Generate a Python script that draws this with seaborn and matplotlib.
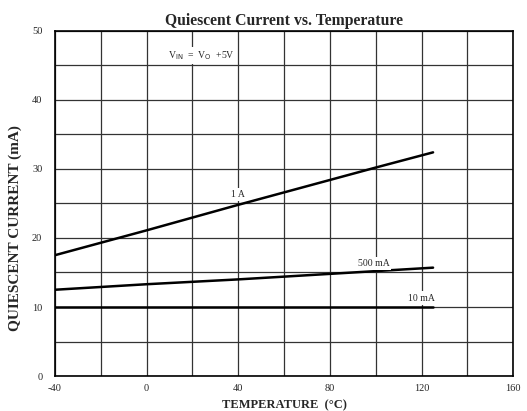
import numpy as np
import pandas as pd
import seaborn as sns
import matplotlib
matplotlib.use("Agg")
import matplotlib.pyplot as plt

# readings
temp = [-40, 0, 40, 80, 100, 125]
i_1a = [17.5, 21.1, 24.8, 28.4, 30.2, 32.4]
i_500ma = [12.5, 13.3, 14.0, 14.8, 15.2, 15.7]
i_10ma = [10.0, 10.0, 10.0, 10.0, 10.0, 10.0]

x_ticks = [-40, -20, 0, 20, 40, 60, 80, 100, 120, 140, 160]
x_labels = ["-40", "", "0", "", "40", "", "80", "", "120", "", "160"]
y_ticks = [0, 5, 10, 15, 20, 25, 30, 35, 40, 45, 50]
y_labels = ["0", "", "10", "", "20", "", "30", "", "40", "", "50"]

df = pd.DataFrame({"temp": temp * 3,
                   "current": i_1a + i_500ma + i_10ma,
                   "load": ["1 A"] * 6 + ["500 mA"] * 6 + ["10 mA"] * 6})

sns.set_style("white")
plt.rcParams["font.family"] = ["Liberation Serif", "DejaVu Serif"]

fig = plt.figure(figsize=(5.27, 4.11), dpi=100)
ax = fig.add_axes([0.104, 0.085, 0.870, 0.840])

sns.lineplot(data=df, x="temp", y="current", units="load", estimator=None,
             color="black", lw=1.8, legend=False, ax=ax, zorder=3)

ax.set_xlim(-40, 160)
ax.set_ylim(0, 50)
ax.set_xticks(x_ticks)
ax.set_xticklabels(x_labels, fontsize=7.5)
ax.set_yticks(y_ticks)
ax.set_yticklabels(y_labels, fontsize=7.5)
ax.tick_params(axis="x", length=0, pad=6)
ax.tick_params(axis="y", length=0, pad=9)
ax.grid(True, color="#333333", lw=0.9)
for s in ax.spines.values():
    s.set_color("black")
    s.set_linewidth(1.2)

ax.set_title("Quiescent Current vs. Temperature", fontsize=11.3, fontweight="bold", pad=4)
ax.set_xlabel("TEMPERATURE  (°C)", fontsize=9, fontweight="bold", labelpad=4)
ax.set_ylabel("QUIESCENT CURRENT (mA)", fontsize=11, fontweight="bold")
ax.yaxis.set_label_coords(-0.072, 0.43)

box = dict(facecolor="white", edgecolor="none", pad=1.5)
ax.text(24, 46.4, r"V$_{\rm IN}$  =  V$_{\rm O}$  +5V", fontsize=7, ha="center", va="center", bbox=box, zorder=4)
ax.text(40, 26.3, "1 A", fontsize=7, ha="center", va="center", bbox=box, zorder=4)
ax.text(99, 16.3, "500 mA", fontsize=7, ha="center", va="center", bbox=box, zorder=4)
ax.text(120, 11.3, "10 mA", fontsize=7, ha="center", va="center", bbox=box, zorder=4)

fig.savefig("out.png", dpi=100)
